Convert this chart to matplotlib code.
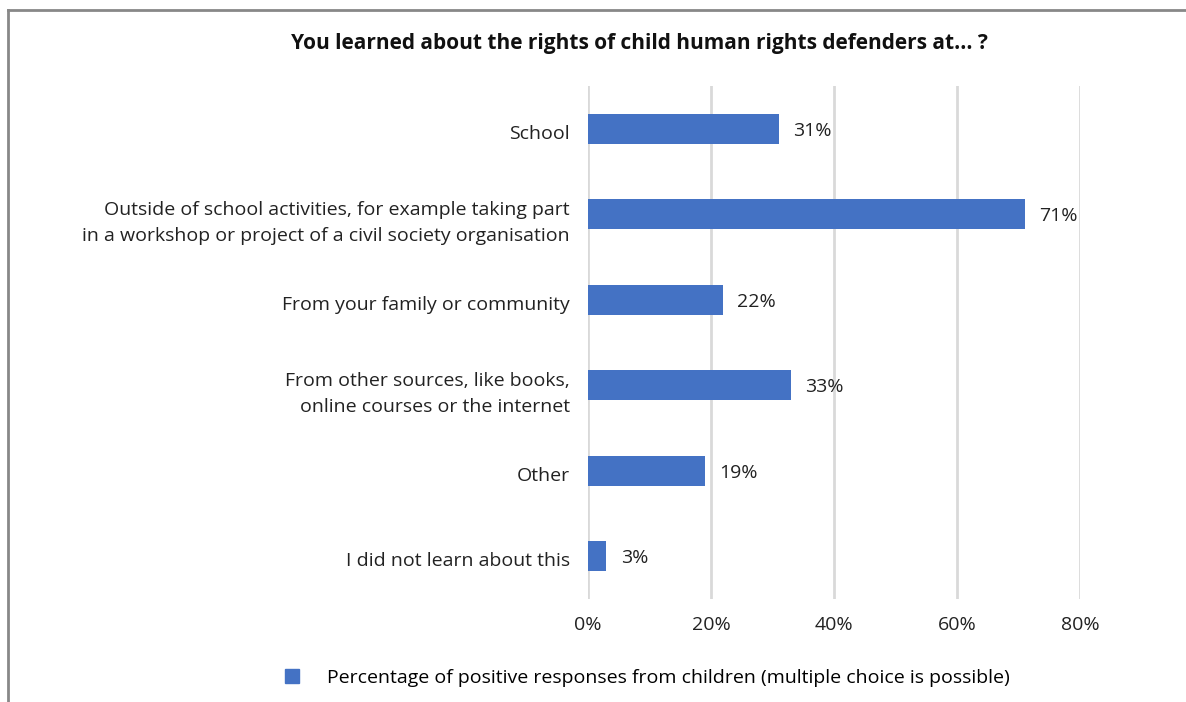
import matplotlib.pyplot as plt
import matplotlib.transforms as mtransforms
from matplotlib.lines import Line2D

plt.rcParams['font.family'] = ['Open Sans', 'DejaVu Sans']

categories = [
    'School',
    'Outside of school activities, for example taking part\nin a workshop or project of a civil society organisation',
    'From your family or community',
    'From other sources, like books,\nonline courses or the internet',
    'Other',
    'I did not learn about this',
]
values = [31, 71, 22, 33, 19, 3]
ticks = [0, 20, 40, 60, 80]
title = 'You learned about the rights of child human rights defenders at... ?'
legend_label = 'Percentage of positive responses from children (multiple choice is possible)'

bar_color = '#4472C4'

fig = plt.figure(figsize=(11.86, 7.02), dpi=100)
W, H = 1186, 702
# axes: x 588..1080 px, y 86..599 px
ax = fig.add_axes([588 / W, 1 - 599 / H, (1080 - 588) / W, (599 - 86) / H])

pos = list(range(len(categories)))
ax.barh(pos, values, height=0.35, color=bar_color, zorder=3)
ax.set_ylim(len(categories) - 0.5, -0.5)
ax.set_xlim(0, 80)
ax.set_yticks(pos)
ax.set_yticklabels(categories, fontsize=14, color='#222222', linespacing=1.55)
ax.set_xticks(ticks)
ax.set_xticklabels([f'{t}%' for t in ticks], fontsize=14, color='#222222')
ax.tick_params(length=0, pad=12)
ax.tick_params(axis='y', pad=13)
ax.grid(axis='x', color='#d9d9d9', linewidth=2, zorder=0)
for s in ax.spines.values():
    s.set_visible(False)

# labels sit a little below bar centres in the original
shift = mtransforms.ScaledTranslation(0, -3 / 100, fig.dpi_scale_trans)
for lab in ax.get_yticklabels():
    lab.set_transform(lab.get_transform() + shift)

for p, v in zip(pos, values):
    ax.text(v + 2.3, p, f'{v}%', va='center', ha='left', fontsize=14, color='#222222',
            transform=ax.transData + mtransforms.ScaledTranslation(0, -2 / 100, fig.dpi_scale_trans))

fig.text(639 / W, 1 - 43 / H, title, ha='center', va='center',
         fontsize=15, fontweight='bold', color='#111111')

handle = Line2D([], [], marker='s', linestyle='none', markersize=9.5,
                markerfacecolor=bar_color, markeredgecolor=bar_color)
fig.legend([handle], [legend_label], loc='center', bbox_to_anchor=(641 / W, 1 - 678 / H),
           frameon=False, fontsize=14, handletextpad=0.8)

# partial frame around the chart
fig.add_artist(Line2D([8 / W, 8 / W], [0, 1 - 10 / H], color='#888888', linewidth=2))
fig.add_artist(Line2D([8 / W, 1], [1 - 10 / H, 1 - 10 / H], color='#888888', linewidth=2))

fig.savefig('out.png', dpi=100, facecolor='white')
